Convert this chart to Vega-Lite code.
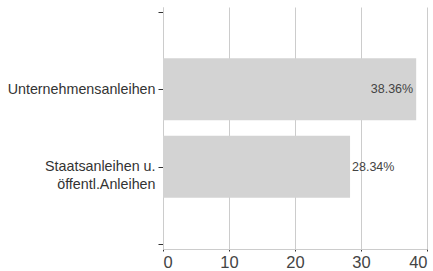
{
  "$schema": "https://vega.github.io/schema/vega-lite/v6.json",
  "width": 433,
  "height": 271,
  "padding": {"left": 7, "top": 7, "right": 5, "bottom": 0},
  "autosize": {"type": "fit", "contains": "padding"},
  "config": {"view": {"stroke": null}, "font": "Liberation Sans"},
  "data": {"values": [
    {"kategorie": "Unternehmensanleihen", "pos": 1, "anteil": 38.36, "label": "38.36%"},
    {"kategorie": "Staatsanleihen u. öffentl.Anleihen", "pos": 2, "anteil": 28.34, "label": "28.34%"}
  ]},
  "encoding": {
    "y": {
      "field": "pos", "type": "quantitative",
      "scale": {"domain": [0, 3], "reverse": true, "nice": false, "zero": false},
      "axis": {
        "title": null, "values": [0, 1, 2, 3], "grid": false,
        "domainColor": "#cccccc", "tickColor": "#333333", "tickSize": 5,
        "labelFontSize": 14.3, "labelColor": "#333333", "labelPadding": 3,
        "labelLineHeight": 18,
        "labelExpr": "datum.value == 1 ? 'Unternehmensanleihen' : datum.value == 2 ? ['Staatsanleihen u.', 'öffentl.Anleihen'] : ''"
      }
    },
    "x": {
      "field": "anteil", "type": "quantitative",
      "scale": {"domain": [0, 40], "nice": false},
      "axis": {
        "title": null, "values": [0, 10, 20, 30, 40], "grid": true,
        "gridColor": "#cccccc", "domainColor": "#cccccc", "tickColor": "#333333",
        "tickSize": 2, "labelFontSize": 16.5, "labelColor": "#444444", "labelPadding": 3
      }
    }
  },
  "layer": [
    {"mark": {"type": "bar", "orient": "horizontal", "size": 62, "color": "#d3d3d3"}},
    {
      "transform": [{"filter": "datum.anteil >= 35"}],
      "mark": {"type": "text", "align": "right", "baseline": "middle", "dx": -3, "fontSize": 12.5, "color": "#444444"},
      "encoding": {"text": {"field": "label"}}
    },
    {
      "transform": [{"filter": "datum.anteil < 35"}],
      "mark": {"type": "text", "align": "left", "baseline": "middle", "dx": 2, "fontSize": 12.5, "color": "#444444"},
      "encoding": {"text": {"field": "label"}}
    }
  ]
}
